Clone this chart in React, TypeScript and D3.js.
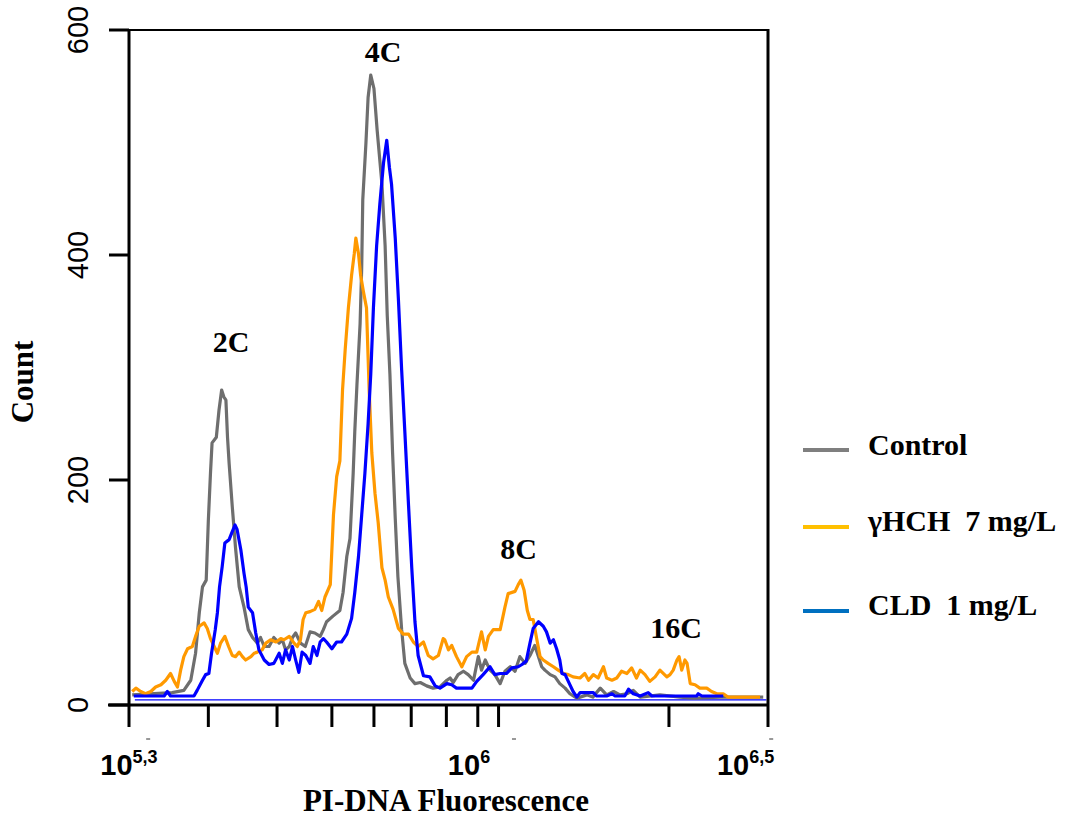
import React from 'react';
import * as d3 from 'd3';

const W = 1066;
const H = 818;

// y axis ticks (counts)
const yTicks = [0, 200, 400, 600];
// x axis tick positions (log10 of PI-DNA fluorescence)
const xTickExps = [5.3, 5.449, 5.578, 5.681, 5.76, 5.83, 5.896, 5.955, 5.994, 6.314, 6.5];
// tiny dash marks under the axis
const xDashExps = [5.336, 6.023, 6.506];
// x tick labels: base, exponent text, position (log10)
const xLabelBases = ['10', '10', '10'];
const xLabelSups = ['5,3', '6', '6,5'];
const xLabelPos = [5.3, 5.9385, 6.458];

// peak annotations
const peakLabels = ['2C', '4C', '8C', '16C'];
const peakLabelPos = [5.4915, 5.777, 6.0314, 6.3272];
const peakLabelCount = [314, 572, 130, 60];

// series: [log10 fluorescence, count]
const controlData: [number, number][] = [
  [5.306, 9], [5.339, 10], [5.381, 11], [5.403, 13], [5.416, 22], [5.425, 46], [5.432, 82], [5.438, 105],
  [5.445, 111], [5.449, 164], [5.453, 206], [5.456, 233], [5.464, 238], [5.469, 262], [5.474, 280], [5.478, 274],
  [5.482, 271], [5.485, 238], [5.488, 215], [5.494, 176], [5.5, 140], [5.507, 105], [5.516, 87], [5.524, 67],
  [5.532, 60], [5.541, 55], [5.547, 60], [5.554, 52], [5.563, 52], [5.572, 60], [5.582, 55], [5.588, 58],
  [5.594, 49], [5.601, 52], [5.607, 60], [5.613, 64], [5.622, 55], [5.631, 52], [5.64, 65], [5.649, 64],
  [5.659, 61], [5.665, 67], [5.671, 74], [5.683, 79], [5.696, 84], [5.702, 100], [5.709, 132], [5.715, 148],
  [5.721, 206], [5.724, 243], [5.728, 284], [5.734, 339], [5.737, 389], [5.739, 449], [5.745, 500], [5.749, 540],
  [5.754, 560], [5.76, 548], [5.766, 511], [5.775, 463], [5.781, 408], [5.785, 346], [5.79, 294], [5.795, 224],
  [5.8, 166], [5.805, 114], [5.812, 67], [5.818, 37], [5.828, 24], [5.837, 19], [5.847, 20], [5.859, 17],
  [5.871, 15], [5.884, 16], [5.897, 22], [5.903, 24], [5.909, 20], [5.918, 27], [5.928, 30], [5.937, 27],
  [5.947, 22], [5.956, 43], [5.962, 31], [5.969, 40], [5.978, 31], [5.987, 27], [5.997, 19], [6.006, 30],
  [6.016, 34], [6.025, 30], [6.034, 43], [6.044, 37], [6.053, 44], [6.062, 53], [6.069, 43], [6.075, 34],
  [6.081, 31], [6.091, 27], [6.1, 25], [6.109, 19], [6.119, 15], [6.128, 10], [6.141, 6], [6.16, 9],
  [6.171, 7], [6.185, 15], [6.197, 9], [6.21, 12], [6.222, 9], [6.235, 10], [6.247, 13], [6.26, 7],
  [6.297, 9], [6.335, 7], [6.36, 6], [6.41, 7], [6.491, 7],
];

const hchData: [number, number][] = [
  [5.306, 12], [5.313, 15], [5.322, 12], [5.331, 10], [5.341, 12], [5.35, 16], [5.36, 18], [5.369, 22],
  [5.378, 28], [5.385, 21], [5.391, 16], [5.397, 31], [5.403, 43], [5.41, 50], [5.419, 52], [5.425, 61],
  [5.432, 70], [5.441, 73], [5.447, 68], [5.453, 59], [5.46, 52], [5.466, 46], [5.472, 55], [5.48, 61],
  [5.487, 52], [5.494, 44], [5.5, 43], [5.507, 47], [5.513, 43], [5.519, 40], [5.529, 43], [5.535, 46],
  [5.541, 47], [5.55, 49], [5.557, 55], [5.566, 58], [5.576, 56], [5.585, 59], [5.591, 58], [5.601, 61],
  [5.61, 55], [5.616, 52], [5.622, 58], [5.627, 76], [5.632, 82], [5.64, 83], [5.649, 85], [5.656, 92],
  [5.662, 84], [5.668, 96], [5.678, 107], [5.684, 169], [5.69, 203], [5.696, 217], [5.701, 280], [5.706, 316],
  [5.712, 353], [5.718, 382], [5.723, 401], [5.726, 415], [5.731, 401], [5.735, 382], [5.74, 368], [5.746, 353],
  [5.751, 280], [5.756, 224], [5.762, 188], [5.768, 162], [5.775, 122], [5.781, 111], [5.787, 96], [5.796, 85],
  [5.806, 68], [5.815, 63], [5.825, 63], [5.834, 56], [5.843, 52], [5.853, 56], [5.862, 44], [5.871, 41],
  [5.881, 44], [5.89, 59], [5.893, 58], [5.9, 49], [5.906, 53], [5.915, 43], [5.925, 34], [5.934, 43],
  [5.944, 47], [5.953, 47], [5.962, 65], [5.969, 49], [5.975, 61], [5.984, 67], [5.997, 67], [6.006, 87],
  [6.012, 99], [6.025, 101], [6.031, 107], [6.036, 111], [6.042, 102], [6.048, 84], [6.053, 76], [6.059, 76],
  [6.066, 58], [6.072, 43], [6.078, 40], [6.087, 37], [6.097, 34], [6.106, 31], [6.116, 28], [6.125, 27],
  [6.134, 25], [6.147, 24], [6.156, 28], [6.163, 22], [6.172, 27], [6.181, 24], [6.191, 34], [6.197, 24],
  [6.207, 22], [6.216, 24], [6.225, 30], [6.235, 28], [6.244, 33], [6.253, 24], [6.26, 31], [6.269, 27],
  [6.278, 21], [6.288, 25], [6.297, 31], [6.31, 25], [6.316, 27], [6.322, 31], [6.329, 40], [6.333, 43],
  [6.338, 31], [6.344, 40], [6.348, 37], [6.354, 19], [6.363, 18], [6.372, 15], [6.385, 15], [6.394, 12],
  [6.404, 10], [6.416, 10], [6.425, 7], [6.485, 7],
];

const cldData: [number, number][] = [
  [5.309, 8], [5.366, 8], [5.372, 12], [5.378, 8], [5.422, 8], [5.428, 13], [5.438, 22], [5.444, 27],
  [5.45, 28], [5.455, 46], [5.462, 67], [5.466, 82], [5.47, 105], [5.475, 123], [5.48, 144], [5.488, 147],
  [5.493, 153], [5.499, 160], [5.503, 156], [5.51, 138], [5.516, 117], [5.52, 105], [5.524, 87], [5.532, 82],
  [5.538, 64], [5.544, 49], [5.554, 40], [5.563, 36], [5.572, 37], [5.582, 46], [5.588, 37], [5.594, 49],
  [5.601, 40], [5.607, 52], [5.613, 40], [5.619, 29], [5.625, 47], [5.632, 44], [5.64, 37], [5.646, 52],
  [5.653, 44], [5.659, 56], [5.665, 59], [5.671, 56], [5.681, 50], [5.69, 56], [5.699, 56], [5.709, 63],
  [5.718, 77], [5.724, 100], [5.731, 132], [5.737, 169], [5.743, 206], [5.749, 250], [5.754, 294], [5.759, 353],
  [5.765, 408], [5.771, 445], [5.778, 482], [5.784, 502], [5.789, 478], [5.793, 463], [5.8, 415], [5.806, 360],
  [5.812, 298], [5.818, 243], [5.825, 177], [5.831, 122], [5.837, 74], [5.843, 44], [5.853, 26], [5.865, 25],
  [5.875, 17], [5.884, 15], [5.897, 19], [5.906, 18], [5.915, 15], [5.944, 15], [5.953, 21], [5.965, 27],
  [5.978, 34], [5.987, 27], [5.997, 28], [6.009, 28], [6.019, 33], [6.031, 34], [6.038, 36], [6.046, 39],
  [6.053, 55], [6.059, 68], [6.069, 74], [6.078, 70], [6.084, 65], [6.091, 55], [6.097, 58], [6.103, 50],
  [6.109, 40], [6.113, 28], [6.119, 27], [6.125, 21], [6.134, 12], [6.141, 7], [6.147, 11], [6.172, 11],
  [6.178, 8], [6.197, 8], [6.207, 10], [6.213, 8], [6.231, 8], [6.238, 14], [6.247, 10], [6.26, 8],
  [6.275, 11], [6.282, 8], [6.366, 8], [6.369, 10], [6.376, 8], [6.416, 8],
];
// thin baseline drawn under the CLD trace
const baselineExtent = [5.311, 6.497];
const baselineCount = 4.5;

const seriesNames = ['Control', 'γHCH  7 mg/L', 'CLD  1 mg/L'];
const seriesLineColors = ['#6E6E6E', '#FF9900', '#0000FF'];
const legendColors = ['#7F7F7F', '#FFC000', '#0070C0'];
const seriesData = [controlData, hchData, cldData];

const SANS = '"Liberation Sans", Arial, sans-serif';
const SERIF = '"Liberation Serif", "Times New Roman", serif';

export default function App() {
  const x = d3.scaleLog().domain([10 ** 5.3, 10 ** 6.5]).range([129, 768]);
  const y = d3.scaleLinear().domain([0, 600]).range([705, 30]);
  const xe = (e: number) => x(10 ** e);
  const line = d3
    .line<[number, number]>()
    .x((d) => xe(d[0]))
    .y((d) => y(d[1]));

  const legendY = [450, 527, 611];
  const legendTextY = [455, 531, 615];

  return (
    <svg
      width={W}
      height={H}
      viewBox={`0 0 ${W} ${H}`}
      style={{ position: 'absolute', left: 0, top: 0, background: '#fff' }}
    >
      <rect x={0} y={0} width={W} height={H} fill="#fff" />

      {/* baseline */}
      <line
        x1={xe(baselineExtent[0])}
        x2={xe(baselineExtent[1])}
        y1={y(baselineCount)}
        y2={y(baselineCount)}
        stroke="#0000FF"
        strokeWidth={1.3}
      />

      {/* series */}
      {seriesData.map((d, i) => (
        <path
          key={i}
          d={line(d) || ''}
          fill="none"
          stroke={seriesLineColors[i]}
          strokeWidth={3.2}
          strokeLinejoin="round"
        />
      ))}

      {/* frame */}
      <line x1={129} x2={768} y1={y(600)} y2={y(600)} stroke="#000" strokeWidth={2} />
      <line x1={768} x2={768} y1={y(600) - 1} y2={y(0)} stroke="#000" strokeWidth={3} />
      <line x1={129} x2={129} y1={y(600) - 1} y2={y(0)} stroke="#000" strokeWidth={3} />
      <line x1={108} x2={769} y1={y(0)} y2={y(0)} stroke="#000" strokeWidth={3} />

      {/* y ticks */}
      {yTicks.map((t) => (
        <g key={t}>
          <line x1={109} x2={129} y1={y(t)} y2={y(t)} stroke="#000" strokeWidth={3} />
          <text
            transform={`translate(88,${y(t)}) rotate(-90)`}
            textAnchor="middle"
            fontFamily={SANS}
            fontSize={29}
            fill="#000"
          >
            {t}
          </text>
        </g>
      ))}

      {/* x ticks */}
      {xTickExps.map((e, i) => (
        <line key={i} x1={xe(e)} x2={xe(e)} y1={y(0)} y2={y(0) + 22} stroke="#000" strokeWidth={3} />
      ))}
      {xDashExps.map((e, i) => (
        <line key={i} x1={xe(e) - 2} x2={xe(e) + 2} y1={739} y2={739} stroke="#333" strokeWidth={1} />
      ))}
      {xLabelPos.map((e, i) => (
        <text
          key={i}
          x={xe(e)}
          y={775}
          textAnchor="middle"
          fontFamily={SANS}
          fontWeight="bold"
          fontSize={29}
          fill="#000"
        >
          {xLabelBases[i]}
          <tspan fontSize={18} dy={-12}>
            {xLabelSups[i]}
          </tspan>
        </text>
      ))}

      {/* axis titles */}
      <text
        x={446}
        y={811}
        textAnchor="middle"
        fontFamily={SERIF}
        fontWeight="bold"
        fontSize={31}
        fill="#000"
      >
        PI-DNA Fluorescence
      </text>
      <text
        transform="translate(33,382) rotate(-90)"
        textAnchor="middle"
        fontFamily={SERIF}
        fontWeight="bold"
        fontSize={31}
        fill="#000"
      >
        Count
      </text>

      {/* peak labels */}
      {peakLabels.map((l, i) => (
        <text
          key={l}
          x={xe(peakLabelPos[i])}
          y={y(peakLabelCount[i])}
          textAnchor="middle"
          fontFamily={SERIF}
          fontWeight="bold"
          fontSize={30}
          fill="#000"
        >
          {l}
        </text>
      ))}

      {/* legend */}
      {seriesNames.map((n, i) => (
        <g key={n}>
          <line x1={803} x2={849} y1={legendY[i]} y2={legendY[i]} stroke={legendColors[i]} strokeWidth={4} />
          <text
            x={868}
            y={legendTextY[i]}
            fontFamily={SERIF}
            fontWeight="bold"
            fontSize={30}
            fill="#000"
            style={{ whiteSpace: 'pre' }}
          >
            {n}
          </text>
        </g>
      ))}
    </svg>
  );
}
